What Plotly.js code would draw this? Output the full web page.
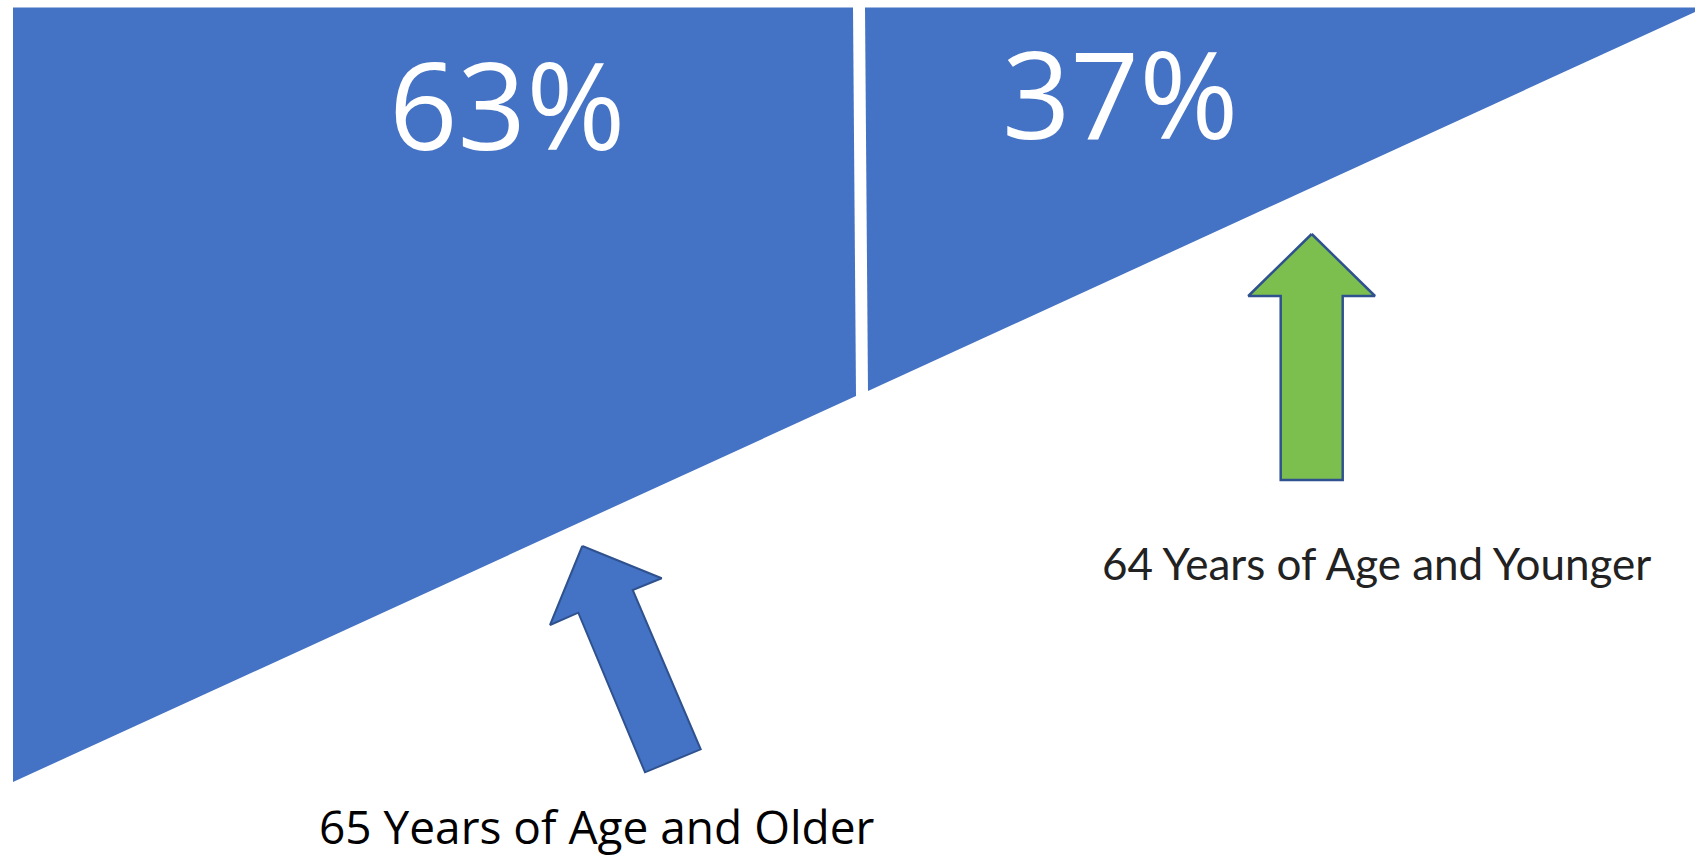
<!DOCTYPE html>
<html>
<head>
<meta charset="utf-8">
<script src="https://cdn.plot.ly/plotly-3.0.1.min.js"></script>
<style>html,body{margin:0;padding:0;background:#fff;overflow:hidden}</style>
</head>
<body>
<div id="chart" style="width:1695px;height:858px"></div>
<script>
// ---- data ----
const groups = ["65 Years of Age and Older", "64 Years of Age and Younger"];
const shares = [63, 37];

// ---- geometry (canvas coordinates) ----
const leftPieceX  = [13, 853, 856, 13];
const leftPieceY  = [7.5, 7.5, 396, 782];
const rightPieceX = [865, 1695, 1695, 868];
const rightPieceY = [7.5, 7.5, 12, 391];
const blueArrowX  = [582.3, 661.7, 632.7, 700.7, 645, 578.3, 550];
const blueArrowY  = [546, 578.3, 590, 749.3, 772.3, 612.7, 625];
const greenArrowX = [1311.7, 1375, 1342.7, 1342.7, 1280.7, 1280.7, 1248.3];
const greenArrowY = [234, 296, 296, 480, 480, 296, 296];

const BLUE = "#4472C4", GREEN = "#7DBF4F", EDGE = "#2F528F";

function poly(xs, ys, fill, line, lw) {
  return {
    type: "scatter", mode: "lines",
    x: xs.concat([xs[0]]), y: ys.concat([ys[0]]),
    fill: "toself", fillcolor: fill,
    line: {color: line, width: lw},
    hoverinfo: "skip", showlegend: false
  };
}

const traces = [
  poly(leftPieceX, leftPieceY, BLUE, BLUE, 0),
  poly(rightPieceX, rightPieceY, BLUE, BLUE, 0),
  poly(blueArrowX, blueArrowY, BLUE, EDGE, 2),
  poly(greenArrowX, greenArrowY, GREEN, EDGE, 2.5)
];

const pctFont = {family: "Open Sans, DejaVu Sans, sans-serif", size: 120, color: "#ffffff"};
const lblFont1 = {family: "Open Sans, Lato, sans-serif", size: 46, color: "#000000"};
const lblFont2 = {family: "Lato, Open Sans, sans-serif", size: 44, color: "#222222"};

const annotations = [
  {x: 507, y: 103, text: shares[0] + "%", font: pctFont},
  {x: 1120, y: 92, text: shares[1] + "%", font: pctFont},
  {x: 597, y: 826, text: groups[0], font: lblFont1},
  {x: 1376, y: 563, text: groups[1], font: lblFont2}
].map(a => Object.assign({xref: "x", yref: "y", showarrow: false, xanchor: "center", yanchor: "middle"}, a));

const layout = {
  width: 1695, height: 858,
  margin: {l: 0, r: 0, t: 0, b: 0},
  paper_bgcolor: "#ffffff", plot_bgcolor: "#ffffff",
  xaxis: {range: [0, 1695], visible: false, fixedrange: true},
  yaxis: {range: [858, 0], visible: false, fixedrange: true},
  annotations: annotations,
  showlegend: false
};

Plotly.newPlot("chart", traces, layout, {displayModeBar: false, staticPlot: true});
</script>
</body>
</html>
